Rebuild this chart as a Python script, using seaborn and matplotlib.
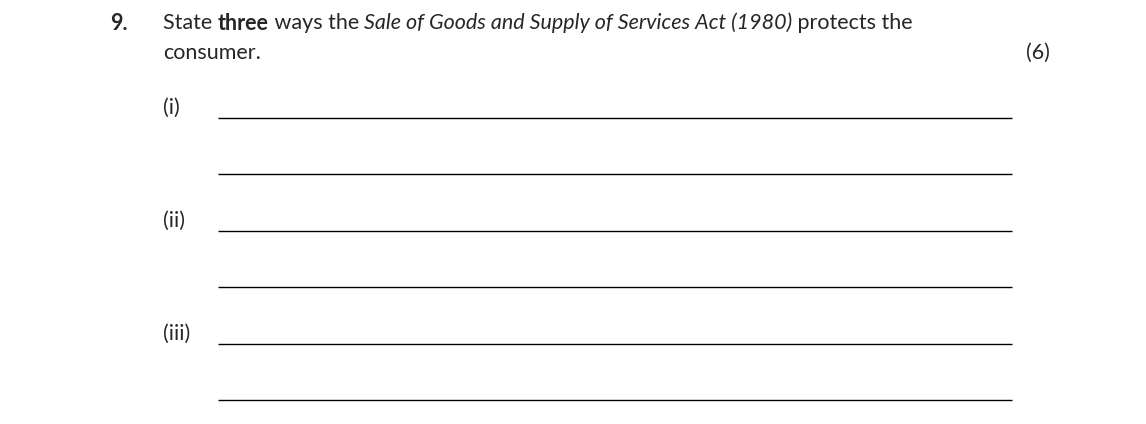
import matplotlib
matplotlib.use("Agg")
import matplotlib.pyplot as plt
import seaborn as sns

sns.set_theme(style="white")
plt.rcParams['font.family'] = ['Lato', 'DejaVu Sans']

# question text pieces: (text, weight, style)
question_parts = [("State ", "normal", "normal"),
                  ("three", "bold", "normal"),
                  (" ways the ", "normal", "normal"),
                  ("Sale of Goods and Supply of Services Act (1980)", "normal", "italic"),
                  (" protects the", "normal", "normal")]
second_line = "consumer."
marks = "(6)"
part_labels = ["(i)", "(ii)", "(iii)"]
label_rows = [108, 221, 334]
answer_rows = [118, 174, 231, 287, 344, 400]

fig = plt.figure(figsize=(11.46, 4.24), dpi=100)
ax = fig.add_axes([0, 0, 1, 1])
ax.set_xlim(0, 1146)
ax.set_ylim(424, 0)
ax.axis("off")

fs = 15.5
ax.text(110, 23, "9.", fontsize=fs, fontweight="bold", va="center")

fig.canvas.draw()
r = fig.canvas.get_renderer()
x = 163
for txt, w, s in question_parts:
    t = ax.text(x, 23, txt, fontsize=fs, fontweight=w, fontstyle=s, va="center")
    bb = t.get_window_extent(renderer=r)
    x += bb.width  # 1 data unit == 1 pixel
ax.text(163, 53, second_line, fontsize=fs, va="center")
ax.text(1050, 53, marks, fontsize=fs, va="center", ha="right")

for lab, y in zip(part_labels, label_rows):
    ax.text(163, y, lab, fontsize=fs, va="center")

ax.hlines(answer_rows, 218, 1012, color="black", linewidth=1)

fig.savefig("out.png", dpi=100)
